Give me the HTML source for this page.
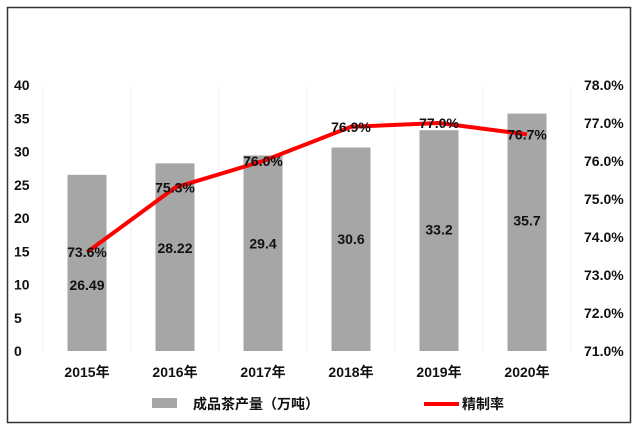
<!DOCTYPE html>
<html><head><meta charset="utf-8"><style>
body{margin:0;background:#fff;}
svg text{font-family:"Liberation Sans","Noto Sans CJK SC",sans-serif;font-weight:bold;fill:#111;}
</style></head><body>
<svg width="640" height="431" viewBox="0 0 640 431" xmlns="http://www.w3.org/2000/svg">
<rect x="7.5" y="7.5" width="623" height="415" fill="#fff" stroke="#333" stroke-width="1.5"/>
<g id="grid"></g><g id="bars"></g><g id="line"></g><g id="labels"></g><g id="axes"></g>
<g>
<rect x="152" y="398" width="25" height="10" fill="#a6a6a6"/>
<text x="193" y="409" font-size="14">成品茶产量（万吨）</text>
<line x1="424" y1="404" x2="459" y2="404" stroke="#f00" stroke-width="4"/>
<text x="462" y="409" font-size="14">精制率</text>
</g>
</svg>
<script>
const categories=["2015年","2016年","2017年","2018年","2019年","2020年"];
const production=[26.49,28.22,29.4,30.6,33.2,35.7];
const refineRate=[73.6,75.3,76.0,76.9,77.0,76.7];
const leftTicks=[0,5,10,15,20,25,30,35,40];
const rightTicks=[71,72,73,74,75,76,77,78];
const NS="http://www.w3.org/2000/svg";
const X0=43,X1=571,Y0=351,Y1=85;
const step=(X1-X0)/categories.length;
const xc=i=>X0+step*(i+0.5);
const yL=v=>Y0-(v-0)/(40-0)*(Y0-Y1);
const yR=v=>Y0-(v-71)/(78-71)*(Y0-Y1);
function mk(tag,attrs,parent,txt){const e=document.createElementNS(NS,tag);for(const k in attrs)e.setAttribute(k,attrs[k]);if(txt!==undefined)e.textContent=txt;document.getElementById(parent).appendChild(e);return e;}
for(let i=0;i<=categories.length;i++){
 const g=mk('line',{x1:X0+step*i,x2:X0+step*i,y1:Y1,y2:Y0,stroke:'#f0f0f0','stroke-width':1},'grid');
 
 
}
production.forEach((v,i)=>{
 const b=mk('rect',{x:xc(i)-19.5,y:yL(v),width:39,height:Y0-yL(v),fill:'#a6a6a6'},'bars');
 
 
 let ly=Y0-(Y0-yL(v))*0.55+5;
 if(Math.abs(ly-(yR(refineRate[i])+5))<18) ly=yR(refineRate[i])+38;
 const t=mk('text',{x:xc(i),y:ly,'font-size':14,'text-anchor':'middle'},'labels',String(v));
 
 
 const c=mk('text',{x:xc(i),y:Y0+26,'font-size':14,'text-anchor':'middle'},'axes',categories[i]);
 
 
});
const pts=refineRate.map((v,i)=>xc(i)+','+yR(v)).join(' ');
const pl=mk('polyline',{points:pts,fill:'none',stroke:'#f00','stroke-width':4,'stroke-linejoin':'round'},'line');


refineRate.forEach((v,i)=>{
 const t=mk('text',{x:xc(i),y:yR(v)+5,'font-size':14,'text-anchor':'middle'},'labels',v.toFixed(1)+'%');
 
 
});
leftTicks.forEach(v=>{
 const t=mk('text',{x:14,y:yL(v)+5,'font-size':14},'axes',String(v));
 
 
});
rightTicks.forEach(v=>{
 const t=mk('text',{x:584,y:yR(v)+5,'font-size':14},'axes',v.toFixed(1)+'%');
 
 
});
</script>
</body></html>
